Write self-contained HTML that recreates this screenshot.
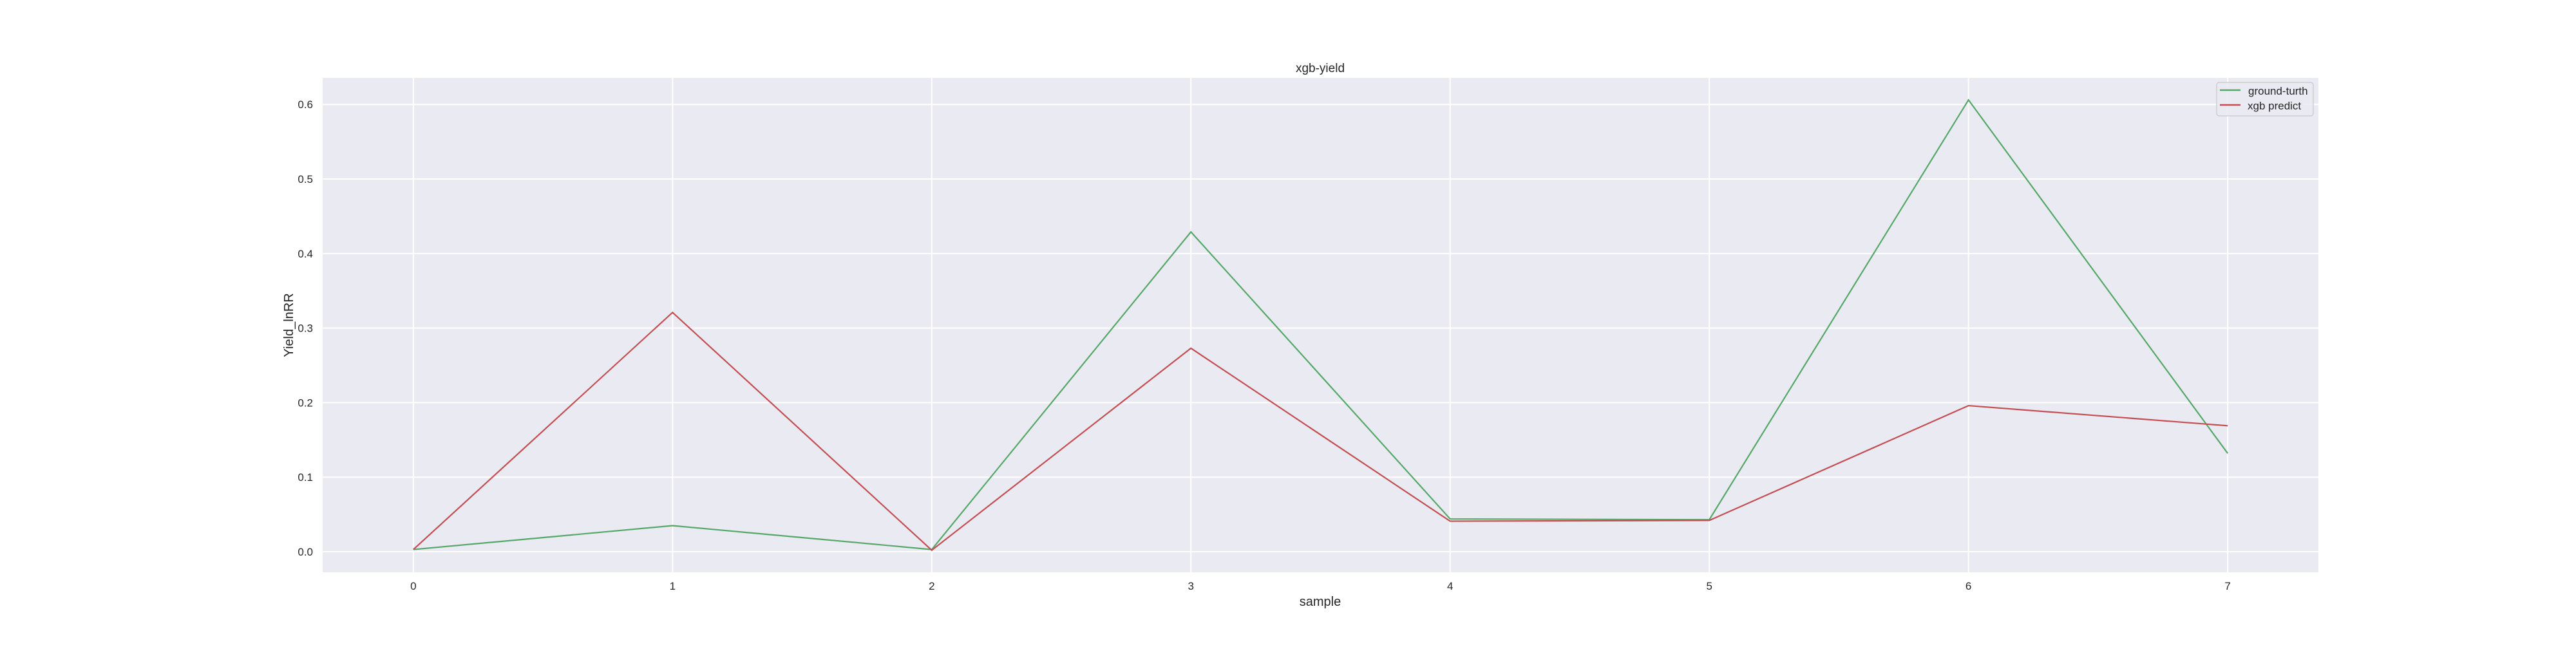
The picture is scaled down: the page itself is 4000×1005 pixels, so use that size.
<!DOCTYPE html>
<html><head><meta charset="utf-8"><style>
body{margin:0;background:#fff;}
svg text{font-family:"Liberation Sans",sans-serif;fill:#262626;}
</style></head><body>
<svg id="chart" width="4000" height="1000" xmlns="http://www.w3.org/2000/svg">
<rect x="501" y="121" width="3099" height="768" fill="#eaeaf2"/>
<g id="grid"></g>
<g id="series"></g>
<text x="2050" y="112" font-size="19" text-anchor="middle">xgb-yield</text>
<text x="2050" y="941" font-size="20" text-anchor="middle">sample</text>
<text transform="translate(455,505) rotate(-90)" font-size="20" text-anchor="middle">Yield_lnRR</text>
<g>
<rect x="3442" y="128" width="150" height="52" rx="4" fill="#eaeaf2" stroke="#cccccc" stroke-width="1.5" opacity="0.9"/>
<line x1="3447" y1="140" x2="3479" y2="140" stroke="#55a868" stroke-width="2.5"/>
<text x="3491" y="147" font-size="17">ground-turth</text>
<line x1="3447" y1="163" x2="3479" y2="163" stroke="#c44e52" stroke-width="2.5"/>
<text x="3490" y="170" font-size="17">xgb predict</text>
</g>
</svg>
<script>
const samples=[0,1,2,3,4,5,6,7];
const groundTruth=[0.003,0.035,0.003,0.429,0.044,0.043,0.606,0.132];
const xgbPredict=[0.003,0.321,0.002,0.273,0.041,0.042,0.196,0.169];
const yTicks=[0.0,0.1,0.2,0.3,0.4,0.5,0.6];
const xTicks=[0,1,2,3,4,5,6,7];
const NS="http://www.w3.org/2000/svg";
const L=501,R=3600,T=121,B=889,xmin=-0.35,xmax=7.35,ymin=-0.0276,ymax=0.6356;
const xs=v=>L+(v-xmin)/(xmax-xmin)*(R-L);
const ys=v=>B-(v-ymin)/(ymax-ymin)*(B-T);
const grid=document.getElementById('grid'),ser=document.getElementById('series'),svg=document.getElementById('chart');
function mk(t,a,p){const e=document.createElementNS(NS,t);for(const k in a)e.setAttribute(k,a[k]);(p||svg).appendChild(e);return e;}
yTicks.forEach(v=>{
 const l=mk('line',{x1:L,x2:R,y1:ys(v),y2:ys(v),stroke:'#fff','stroke-width':2},grid);
 
 
 const t=mk('text',{x:486,y:ys(v)+6,'font-size':17,'text-anchor':'end'});
 
 
 t.textContent=v.toFixed(1);
});
xTicks.forEach(v=>{
 const l=mk('line',{x1:xs(v),x2:xs(v),y1:T,y2:B,stroke:'#fff','stroke-width':2},grid);
 
 
 const t=mk('text',{x:xs(v),y:916,'font-size':17,'text-anchor':'middle'});
 
 
 t.textContent=v;
});
function line(d,c,n){
 const p=mk('polyline',{points:d.map((v,i)=>xs(samples[i])+','+ys(v)).join(' '),fill:'none',stroke:c,'stroke-width':2.2},ser);
 
 
}
line(groundTruth,'#55a868','ground-truth-line');
line(xgbPredict,'#c44e52','xgb-predict-line');
</script>
</body></html>
